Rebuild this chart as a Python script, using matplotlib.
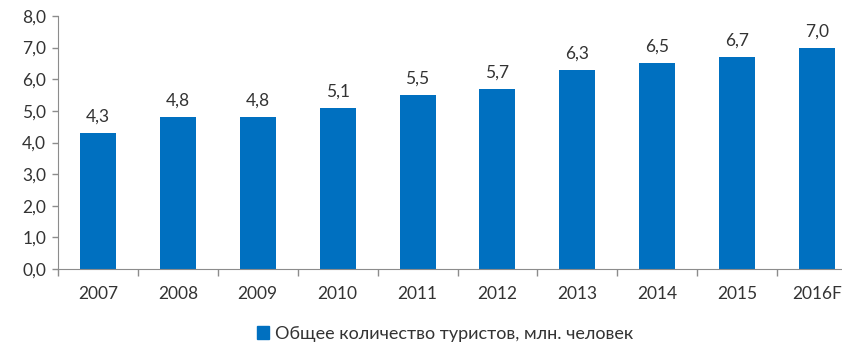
import matplotlib
matplotlib.use("Agg")
import matplotlib.pyplot as plt
import matplotlib.patches as mpatches

# данные
years = ["2007", "2008", "2009", "2010", "2011", "2012", "2013", "2014", "2015", "2016F"]
tourists = [4.3, 4.8, 4.8, 5.1, 5.5, 5.7, 6.3, 6.5, 6.7, 7.0]
series_name = "Общее количество туристов, млн. человек"

bar_color = "#0070C0"
text_color = "#333333"
axis_color = "#8C8C8C"

plt.rcParams["font.family"] = ["Lato", "DejaVu Sans"]

fig = plt.figure(figsize=(8.42, 3.47), dpi=100)
W, H = 842, 347
ax = fig.add_axes([58 / W, 1 - 269 / H, 799 / W, (269 - 16) / H])

x = list(range(len(years)))
bars = ax.bar(x, tourists, width=0.45, color=bar_color)
ax.bar_label(bars, fmt=lambda v: f"{v:.1f}".replace(".", ","), padding=6,
             fontsize=12.5, color=text_color)

ax.set_xlim(-0.5, len(years) - 0.5)
ax.set_ylim(0, 8)

# y axis
yt = [i for i in range(9)]
ax.set_yticks(yt)
ax.set_yticklabels([f"{v:.1f}".replace(".", ",") for v in yt], fontsize=12.5, color=text_color)
ax.tick_params(axis="y", length=4.5, width=1, color=axis_color, pad=4)

# x axis: ticks between categories, labels in centers
ax.set_xticks([i - 0.5 for i in range(len(years) + 1)])
ax.set_xticklabels([])
ax.set_xticks(x, minor=True)
ax.set_xticklabels(years, minor=True, fontsize=12.5, color=text_color)
ax.tick_params(axis="x", which="major", length=5, width=1, color=axis_color)
ax.tick_params(axis="x", which="minor", length=0, pad=12)

for s in ["top", "right"]:
    ax.spines[s].set_visible(False)
for s in ["left", "bottom"]:
    ax.spines[s].set_color(axis_color)

handle = mpatches.Patch(color=bar_color, label=series_name)
fig.legend(handles=[handle], loc="center", bbox_to_anchor=(445 / W, 1 - 334 / H),
           frameon=False, fontsize=13, labelcolor=text_color,
           handlelength=0.7, handleheight=0.7, handletextpad=0.3)

fig.savefig("out.png", dpi=100)
